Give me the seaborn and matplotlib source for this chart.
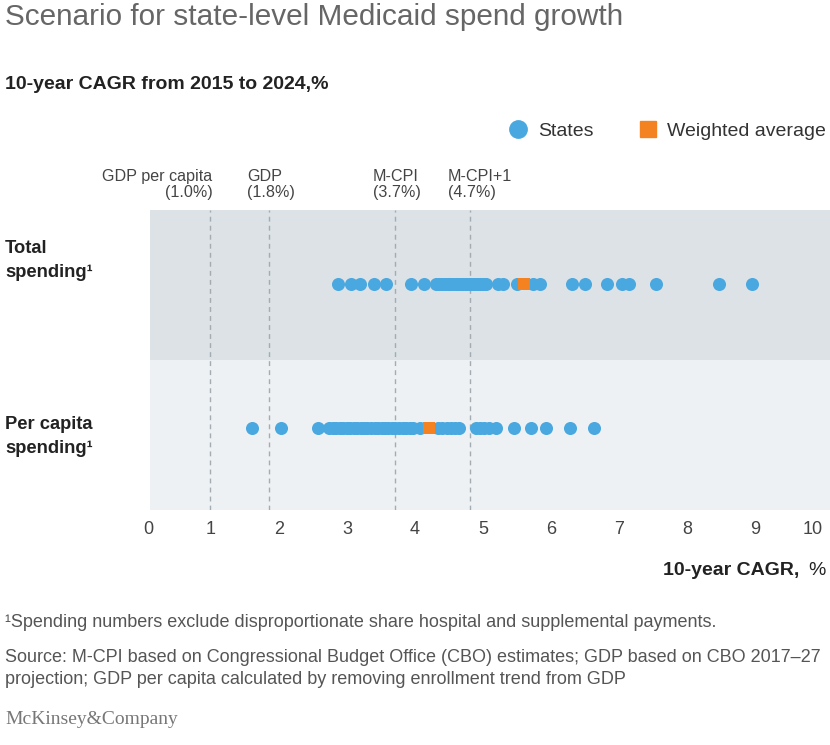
import pandas as pd
import matplotlib.pyplot as plt
import seaborn as sns
from matplotlib.lines import Line2D

# values (10-year CAGR, %)
total_states = [2.87, 3.06, 3.19, 3.40, 3.57, 3.94, 4.13, 4.31, 4.36, 4.40, 4.44,
                4.48, 4.52, 4.56, 4.60, 4.63, 4.67, 4.71, 4.75, 4.79, 4.83, 4.87,
                4.91, 4.96, 5.00, 5.04, 5.22, 5.29, 5.50, 5.74, 5.84, 6.31, 6.50,
                6.82, 7.04, 7.15, 7.54, 8.47, 8.96]
per_capita_states = [1.60, 2.03, 2.57, 2.74, 2.79, 2.84, 2.89, 2.94, 3.00, 3.04,
                     3.10, 3.15, 3.20, 3.25, 3.30, 3.35, 3.41, 3.46, 3.51, 3.56,
                     3.61, 3.66, 3.71, 3.76, 3.82, 3.87, 3.92, 3.97, 4.07, 4.34,
                     4.40, 4.47, 4.53, 4.59, 4.65, 4.90, 4.95, 5.01, 5.09, 5.19,
                     5.46, 5.71, 5.93, 6.28, 6.63]
weighted_avg = {'Total': 5.60, 'Per capita': 4.21}
rows = ['Total', 'Per capita']
row_labels = ['Total\nspending\u00b9', 'Per capita\nspending\u00b9']

ref_names = ['GDP per capita', 'GDP', 'M-CPI', 'M-CPI+1']
ref_pct = ['(1.0%)', '(1.8%)', '(3.7%)', '(4.7%)']
ref_pos = [0.99, 1.86, 3.71, 4.81]
ticks = list(range(0, 11))

states = pd.DataFrame({
    'cagr': total_states + per_capita_states,
    'row': ['Total'] * len(total_states) + ['Per capita'] * len(per_capita_states),
})
avg = pd.DataFrame({'cagr': list(weighted_avg.values()), 'row': list(weighted_avg.keys())})

BLUE = '#4AA8E0'
ORANGE = '#F58220'
W, H = 830, 745

sns.set_theme(style='white')
plt.rcParams['font.family'] = ['Liberation Sans', 'DejaVu Sans']

fig = plt.figure(figsize=(W / 100, H / 100), dpi=100)
ax = fig.add_axes([143 / W, 1 - 510 / H, 1 - 143 / W, 300 / H])

def fx(x):
    return x / W

def fy(y):
    return 1 - y / H

# vertical frame: rows sit slightly off the band centres, as in the original
y_top, y_mid, y_bot = -0.514, 0.528, 1.569

# background bands
ax.axhspan(y_top, y_mid, xmin=7 / 687, xmax=1, color='#DCE2E6', zorder=0, lw=0)
ax.axhspan(y_mid, y_bot, xmin=7 / 687, xmax=1, color='#EEF1F3', zorder=0, lw=0)

for x in ref_pos:
    ax.axvline(x, color='#A3ACB2', lw=1, ls=(0, (3.5, 3)), zorder=1)

sns.stripplot(data=states, x='cagr', y='row', order=rows, jitter=False,
              color=BLUE, size=9.4, linewidth=0, ax=ax, zorder=3)
sns.stripplot(data=avg, x='cagr', y='row', order=rows, jitter=False,
              color=ORANGE, size=8.6, marker='s', linewidth=0, ax=ax, zorder=4)

ax.set_xlim(0, (W - 143) / 68)
ax.set_ylim(y_bot, y_top)
ax.set_xticks(ticks)
ax.set_xticklabels([str(t) for t in ticks], fontsize=13, color='#444444')
labels = ax.get_xticklabels()
labels[0].set_horizontalalignment('left')
labels[-1].set_horizontalalignment('right')
ax.set_yticks([])
ax.set_xlabel('')
ax.set_ylabel('')
ax.tick_params(axis='x', direction='in', length=4, width=1, color='#A3ACB2', pad=8)
for s in ax.spines.values():
    s.set_visible(False)

# reference line labels
for i, (name, pct, x) in enumerate(zip(ref_names, ref_pct, ref_pos)):
    if i == 0:
        ax.annotate(name + '\n' + pct, xy=(x, 1), xycoords=('data', 'axes fraction'),
                    xytext=(1.5, 7), textcoords='offset points', ha='right', va='bottom',
                    multialignment='right', fontsize=11.6, color='#444444', linespacing=1.1)
    else:
        ax.annotate(name + '\n' + pct, xy=(x, 1), xycoords=('data', 'axes fraction'),
                    xytext=(-16, 7), textcoords='offset points', ha='left', va='bottom',
                    multialignment='left', fontsize=11.6, color='#444444', linespacing=1.1)

# row labels
for lab, y in zip(row_labels, [253, 429]):
    first, second = lab.split('\n')
    fig.text(fx(5), fy(y), first, fontsize=13.2, fontweight='bold', color='#222222', va='baseline')
    fig.text(fx(5), fy(y + 24), second, fontsize=13.2, fontweight='bold', color='#222222', va='baseline')

# titles
fig.text(fx(5), fy(25), 'Scenario for state-level Medicaid spend growth',
         fontsize=21.4, color='#666666', va='baseline')
fig.text(fx(5), fy(89), '10-year CAGR from 2015 to 2024,%',
         fontsize=14, fontweight='bold', color='#222222', va='baseline')

# legend
handles = [Line2D([], [], marker='o', ls='', color=BLUE, markersize=12.5),
           Line2D([], [], marker='s', ls='', color=ORANGE, markersize=11.5)]
fig.legend(handles, ['States', 'Weighted average'], loc='center right',
           bbox_to_anchor=(fx(826), fy(131)), ncol=2, frameon=False,
           prop={'size': 14}, labelcolor='#333333', handlelength=1.0,
           handletextpad=0.5, columnspacing=2.3, borderaxespad=0, borderpad=0)

# x axis title
fig.text(fx(799), fy(575), '10-year CAGR,', fontsize=14, fontweight='bold',
         color='#222222', ha='right', va='baseline')
fig.text(fx(826), fy(575), '%', fontsize=14, color='#222222', ha='right', va='baseline')

# footnotes
fig.text(fx(5), fy(627), '\u00b9Spending numbers exclude disproportionate share hospital and supplemental payments.',
         fontsize=13, color='#555555', va='baseline')
fig.text(fx(5), fy(662), 'Source: M-CPI based on Congressional Budget Office (CBO) estimates; GDP based on CBO 2017\u201327',
         fontsize=13, color='#555555', va='baseline')
fig.text(fx(5), fy(684), 'projection; GDP per capita calculated by removing enrollment trend from GDP',
         fontsize=13, color='#555555', va='baseline')
fig.text(fx(5), fy(724), 'McKinsey&Company', fontsize=14, color='#777777', va='baseline',
         family=['Liberation Serif', 'DejaVu Serif'])

fig.savefig('out.png', dpi=100)
